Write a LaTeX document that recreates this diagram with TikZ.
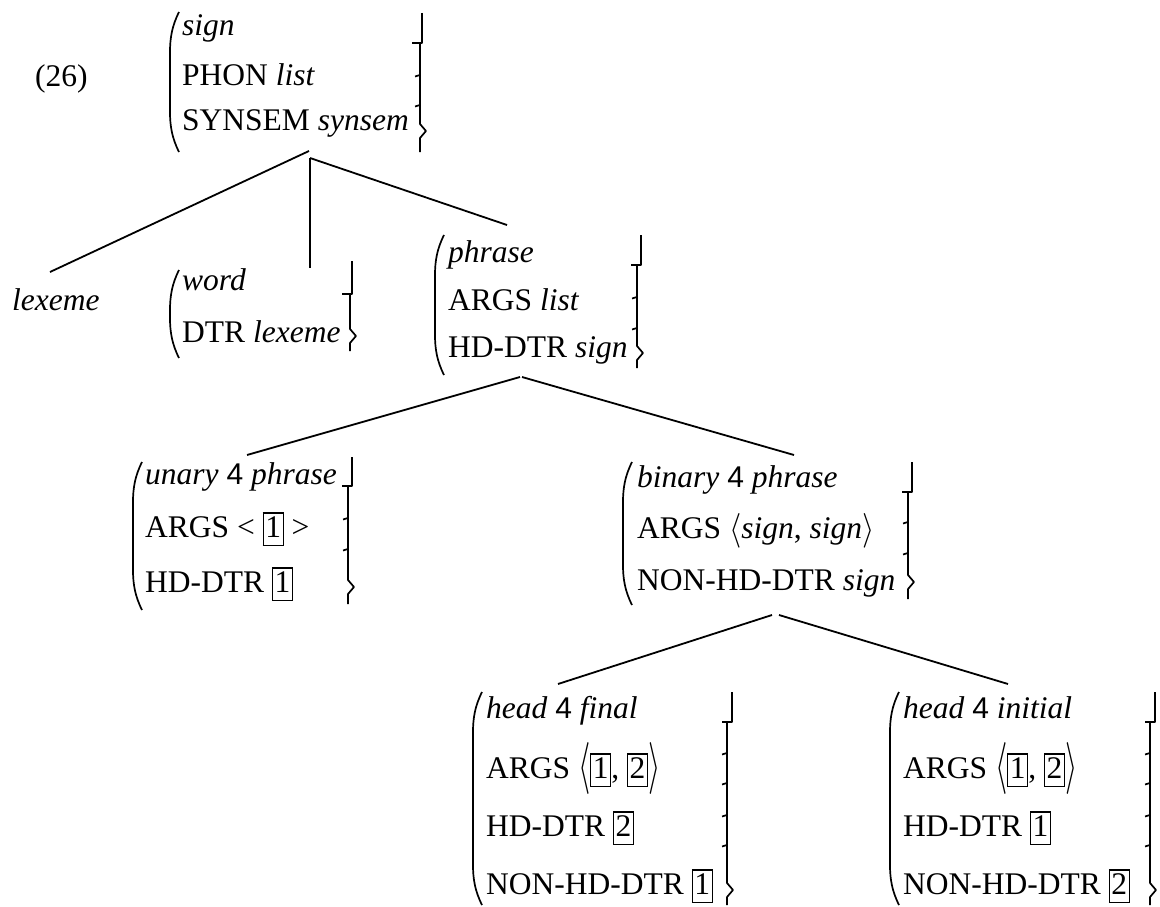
\RequirePackage{fix-cm}
\documentclass[tikz,border=0pt]{standalone}
\usepackage{fontspec}
\usepackage{graphicx}
\setmainfont{Liberation Serif}
\newfontfamily\andfont{Liberation Sans}
\newcommand\cj{{\fontsize{30}{34}\selectfont\andfont 4}}
\newcommand\tg[1]{{\setlength\fboxsep{1.5pt}\setlength\fboxrule{1.1pt}\fbox{\rule[-6pt]{0pt}{28pt}#1}}}
\newcommand\sla{\raisebox{-1.5pt}{\scalebox{1}[1.1]{$\langle$}}}
\newcommand\sra{\raisebox{-1.5pt}{\scalebox{1}[1.1]{$\rangle$}}}
\newcommand\bla{\raisebox{-3pt}{\scalebox{1}[1.65]{$\langle$}}}
\newcommand\bra{\raisebox{-3pt}{\scalebox{1}[1.65]{$\rangle$}}}
% right "brace": x-top, y-top, y-hook, x-low, ticks, y-tip, y-bottom
\newcommand\rbr[7]{%
  \draw[brk] (#1,#2) -- (#1,#3) -- (#1-10,#3);
  \draw[brk] (#4,#3) -- (#4,#6-7) -- (#4+6,#6) -- (#4,#6+7) -- (#4,#7);
  \foreach \tk in {#5} \draw[brk] (#4,\tk) -- (#4-5,\tk+1.5);
}
% left paren: x, y-top, y-bottom
\newcommand\lbr[3]{%
  \draw[brk] (#1+9,#2) .. controls (#1+2,#2+14) and (#1,#2+26) .. (#1,#2+40)
    -- (#1,#3-40) .. controls (#1,#3-26) and (#1+2,#3-14) .. (#1+9,#3);
}
\begin{document}
\begin{tikzpicture}[x=1pt,y=-1pt,
  every node/.style={inner sep=0pt,font=\fontsize{31.5}{38}\selectfont},
  row/.style={anchor=base west},
  brk/.style={line width=1.7pt,line join=round},
  conn/.style={line width=1.8pt}]
\useasboundingbox (0,0) rectangle (1160,907);

\node[row] (ex) at (35,87) {(26)};

% top FS
\node[row] (s1) at (182,36) {\textit{sign}};
\node[row] (s2) at (182,85) {PHON \textit{list}};
\node[row] (s3) at (182,131) {SYNSEM \textit{synsem}};
\lbr{170}{12}{152}
\rbr{422}{13}{43}{420}{75,105}{131}{152}

% lexeme
\node[row] (lex) at (12,310) {\textit{lexeme}};

% word FS
\node[row] (w1) at (182,290) {\textit{word}};
\node[row] (w2) at (182,342) {DTR \textit{lexeme}};
\lbr{170}{270}{358}
\rbr{352}{261}{294}{350}{}{336}{351}

% phrase FS
\node[row] (p1) at (448,262) {\textit{phrase}};
\node[row] (p2) at (448,310) {ARGS \textit{list}};
\node[row] (p3) at (448,357) {HD-DTR \textit{sign}};
\lbr{435}{235}{375}
\rbr{641}{235}{265}{637}{297,328}{353}{368}

% unary FS
\node[row] (u1) at (145,484) {\textit{unary} \cj\ \textit{phrase}};
\node[row] (u2) at (145,537) {ARGS < \tg{1} >};
\node[row] (u3) at (145,592) {HD-DTR \tg{1}};
\lbr{133}{462}{610}
\rbr{352}{457}{486}{348}{518,549}{587}{604}

% binary FS
\node[row] (b1) at (637,487) {\textit{binary} \cj\ \textit{phrase}};
\node[row] (b2) at (637,538) {ARGS \sla\textit{sign}, \textit{sign}\sra};
\node[row] (b3) at (637,590) {NON-HD-DTR \textit{sign}};
\lbr{623}{462}{605}
\rbr{912}{462}{492}{908}{522,553}{582}{599}

% head final FS
\node[row] (f1) at (486,718) {\textit{head} \cj\ \textit{final}};
\node[row] (f2) at (486,778) {ARGS \bla\tg{1}, \tg{2}\bra};
\node[row] (f3) at (486,836) {HD-DTR \tg{2}};
\node[row] (f4) at (486,894) {NON-HD-DTR \tg{1}};
\lbr{473}{692}{905}
\rbr{732}{692}{722}{727}{753,783,815,845}{890}{905}

% head initial FS
\node[row] (i1) at (903,718) {\textit{head} \cj\ \textit{initial}};
\node[row] (i2) at (903,778) {ARGS \bla\tg{1}, \tg{2}\bra};
\node[row] (i3) at (903,836) {HD-DTR \tg{1}};
\node[row] (i4) at (903,894) {NON-HD-DTR \tg{2}};
\lbr{890}{692}{905}
\rbr{1155}{692}{722}{1150}{753,783,815,845}{890}{905}

% connector ends
\coordinate (signL) at (309,151);
\coordinate (signR) at (310,158);
\coordinate (lexT) at (50,272);
\coordinate (wordT) at (310,268);
\coordinate (phrT) at (507,225);
\coordinate (phrL) at (520,377);
\coordinate (phrR) at (522,377);
\coordinate (unT) at (247,455);
\coordinate (biT) at (794,455);
\coordinate (biL) at (772,615);
\coordinate (biR) at (779,615);
\coordinate (finT) at (558,684);
\coordinate (iniT) at (1008,684);

\draw[conn] (signL) -- (lexT);
\draw[conn] (signR) -- (wordT);
\draw[conn] (signR) -- (phrT);
\draw[conn] (phrL) -- (unT);
\draw[conn] (phrR) -- (biT);
\draw[conn] (biL) -- (finT);
\draw[conn] (biR) -- (iniT);
\end{tikzpicture}
\end{document}
